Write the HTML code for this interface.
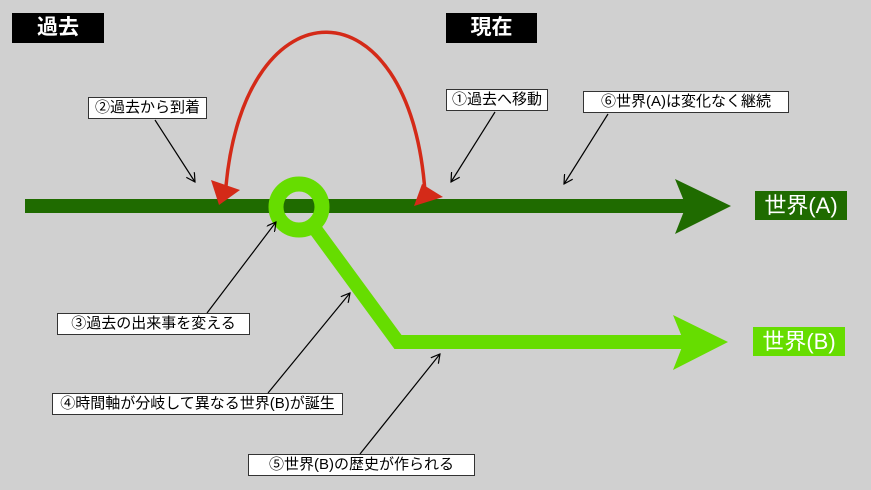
<!DOCTYPE html>
<html><head><meta charset="utf-8"><style>
body{margin:0;width:871px;height:490px;background:#d0d0d0;position:relative;overflow:hidden;font-family:"Liberation Sans","Noto Sans CJK JP",sans-serif}
.b{position:absolute;background:#fff;border:1px solid #333;box-sizing:border-box;font-size:15px;line-height:20px;text-align:center;color:#000;white-space:nowrap}
.h{position:absolute;background:#000;color:#fff;font-size:21px;line-height:30px;text-align:center;font-weight:bold}
.w{position:absolute;color:#fff;font-size:22px;line-height:29px;text-align:center}
svg{position:absolute;left:0;top:0}
</style></head><body>
<svg width="871" height="490">
<defs><marker id="m" markerWidth="10" markerHeight="10" refX="9" refY="5" orient="auto" markerUnits="userSpaceOnUse"><path d="M0,0 L9,5 L0,10" fill="none" stroke="#000" stroke-width="1.2"/></marker></defs>
<rect x="25" y="199" width="662" height="14" fill="#1f6b00"/>
<path d="M675,179 L731,206 L675,234 L686,206 Z" fill="#1f6b00"/>
<path d="M310,222 L398,342 L686,342" fill="none" stroke="#66dd00" stroke-width="14"/>
<path d="M673,315 L728,342 L673,370 L684,342 Z" fill="#66dd00"/>
<circle cx="299" cy="207" r="23" fill="none" stroke="#66dd00" stroke-width="15"/>
<path d="M226,186 C245,-20 410,-20 425,192" fill="none" stroke="#d42a18" stroke-width="3.5"/>
<path d="M211,180 L240,190 L219,205 Z" fill="#d42a18"/>
<path d="M414,206 L443,197 L422,184 Z" fill="#d42a18"/>
<g stroke="#000" stroke-width="1.2" marker-end="url(#m)">
<line x1="155" y1="120" x2="195" y2="182"/>
<line x1="495" y1="112" x2="451" y2="182"/>
<line x1="608" y1="114" x2="564" y2="184"/>
<line x1="207" y1="313" x2="276" y2="222"/>
<line x1="268" y1="393" x2="350" y2="293"/>
<line x1="360" y1="454" x2="440" y2="354"/>
</g>
</svg>
<div class="h" style="left:12px;top:13px;width:92px">過去</div>
<div class="h" style="left:446px;top:13px;width:91px">現在</div>
<div class="b" style="left:88px;top:97px;width:119px;height:22px">②過去から到着</div>
<div class="b" style="left:446px;top:89px;width:102px;height:22px">①過去へ移動</div>
<div class="b" style="left:583px;top:91px;width:206px;height:22px">⑥世界(A)は変化なく継続</div>
<div class="b" style="left:57px;top:313px;width:193px;height:22px">③過去の出来事を変える</div>
<div class="b" style="left:52px;top:393px;width:291px;height:22px">④時間軸が分岐して異なる世界(B)が誕生</div>
<div class="b" style="left:248px;top:454px;width:227px;height:22px">⑤世界(B)の歴史が作られる</div>
<div class="w" style="left:755px;top:191px;width:92px;background:#1f6b00">世界(A)</div>
<div class="w" style="left:753px;top:327px;width:92px;background:#66dd00">世界(B)</div>
</body></html>
